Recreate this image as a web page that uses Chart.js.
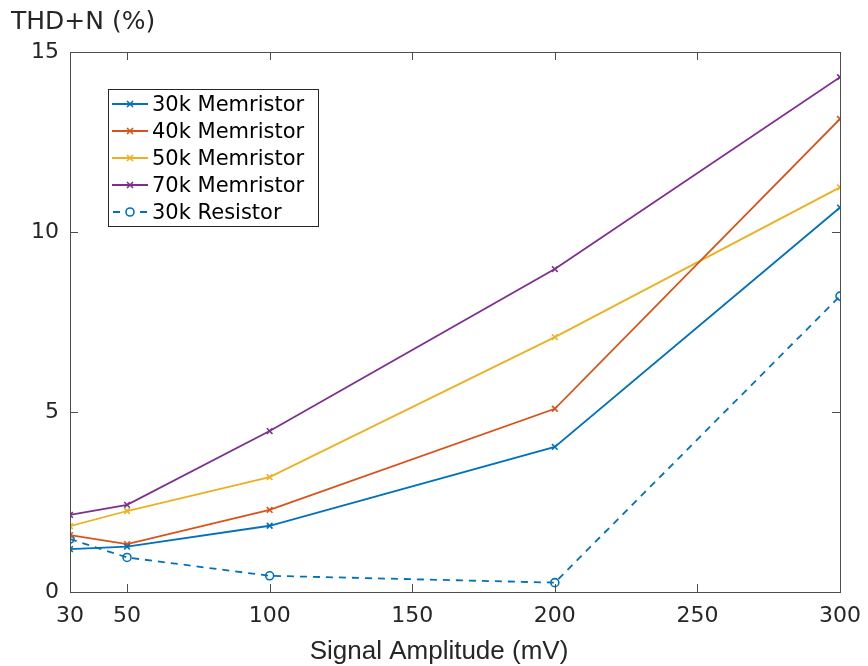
<!DOCTYPE html>
<html>
<head>
<meta charset="utf-8">
<script src="https://cdn.jsdelivr.net/npm/chart.js@4"></script>
<style>
  html, body { margin: 0; padding: 0; background: #fff; }
  #wrap { width: 868px; height: 666px; }
</style>
</head>
<body>
<div id="wrap"><canvas id="myChart" width="868" height="666"></canvas></div>
<script>
// values
const amplitudes = [30, 50, 100, 200, 300];
const xTicks = [30, 50, 100, 150, 200, 250, 300];
const yTicks = [0, 5, 10, 15];

const mem30k = [1.19, 1.26, 1.84, 4.03, 10.68];
const mem40k = [1.58, 1.33, 2.28, 5.09, 13.14];
const mem50k = [1.83, 2.25, 3.19, 7.08, 11.24];
const mem70k = [2.14, 2.42, 4.47, 8.97, 14.30];
const res30k = [1.47, 0.96, 0.45, 0.26, 8.22];

const seriesNames = ['30k Memristor', '40k Memristor', '50k Memristor', '70k Memristor', '30k Resistor'];
const colors = ['#0072BD', '#D95319', '#EDB120', '#7E2F8E', '#0072BD'];

const axisColor = '#4d4d4d';
const tickFont = { family: 'DejaVu Sans', size: 22 };
const lineW = 1.8;

function pts(vals) {
    return vals.map((v, i) => ({ x: amplitudes[i], y: v }));
}

function memSet(i, vals) {
    return {
        label: seriesNames[i],
        data: pts(vals),
        borderColor: colors[i],
        backgroundColor: colors[i],
        borderWidth: lineW,
        pointStyle: 'crossRot',
        pointRadius: 4,
        pointBorderWidth: 1.6,
        pointBorderColor: colors[i],
        tension: 0
    };
}

// MATLAB style box, inward ticks, labels and legend
const matlabAxes = {
    id: 'matlabAxes',
    afterDraw(chart) {
        const c = chart.ctx;
        const a = chart.chartArea;
        const xs = chart.scales.x, ys = chart.scales.y;
        c.save();
        c.strokeStyle = axisColor;
        c.lineWidth = 1;
        c.strokeRect(a.left + 0.5, a.top + 0.5, a.right - a.left, a.bottom - a.top);
        const tl = 8;
        c.beginPath();
        xTicks.forEach(t => {
            const px = Math.round(xs.getPixelForValue(t)) + 0.5;
            c.moveTo(px, a.bottom); c.lineTo(px, a.bottom - tl);
            c.moveTo(px, a.top); c.lineTo(px, a.top + tl);
        });
        yTicks.forEach(t => {
            const py = Math.round(ys.getPixelForValue(t)) + 0.5;
            c.moveTo(a.left, py); c.lineTo(a.left + tl, py);
            c.moveTo(a.right, py); c.lineTo(a.right - tl, py);
        });
        c.stroke();

        // axis labels
        c.fillStyle = '#262626';
        c.font = '25px "DejaVu Sans"';
        c.textAlign = 'left';
        c.textBaseline = 'alphabetic';
        c.fillText('THD+N (%)', 11, 29);
        c.font = '26px "Liberation Sans"';
        c.textAlign = 'center';
        c.fillText('Signal Amplitude (mV)', 439, 659);

        // legend
        const lx = 108, ly = 89, lw = 210, lh = 137;
        c.fillStyle = '#fff';
        c.fillRect(lx, ly, lw, lh);
        c.strokeStyle = '#262626';
        c.strokeRect(lx + 0.5, ly + 0.5, lw, lh);
        c.font = '21px "DejaVu Sans"';
        c.textAlign = 'left';
        c.textBaseline = 'middle';
        chart.data.datasets.forEach((ds, i) => {
            const cy = ly + 15 + i * 27;
            c.strokeStyle = ds.borderColor;
            c.lineWidth = lineW;
            c.setLineDash([]);
            c.beginPath();
            if (ds.borderDash) {
                c.moveTo(113, cy); c.lineTo(120, cy);
                c.moveTo(140, cy); c.lineTo(147, cy);
            } else {
                c.moveTo(112, cy); c.lineTo(148, cy);
            }
            c.stroke();
            c.lineWidth = 1.6;
            c.beginPath();
            if (ds.pointStyle === 'circle') {
                c.arc(130, cy, 4, 0, Math.PI * 2);
            } else {
                c.moveTo(127, cy - 3); c.lineTo(133, cy + 3);
                c.moveTo(133, cy - 3); c.lineTo(127, cy + 3);
            }
            c.stroke();
            c.fillStyle = '#000';
            c.fillText(ds.label, 152, cy + 2);
        });
        c.restore();
    }
};

const ctx = document.getElementById('myChart').getContext('2d');

new Chart(ctx, {
    type: 'line',
    data: {
        datasets: [
            memSet(0, mem30k),
            memSet(1, mem40k),
            memSet(2, mem50k),
            memSet(3, mem70k),
            {
                label: seriesNames[4],
                data: pts(res30k),
                borderColor: colors[4],
                backgroundColor: '#fff',
                borderWidth: lineW,
                borderDash: [7, 6],
                pointStyle: 'circle',
                pointRadius: 4,
                pointBorderWidth: 1.6,
                pointBorderColor: colors[4],
                pointBackgroundColor: 'rgba(255,255,255,0)',
                tension: 0
            }
        ]
    },
    options: {
        responsive: false,
        animation: false,
        layout: { padding: { left: 0, right: 28, top: 52, bottom: 0 } },
        plugins: {
            legend: { display: false },
            tooltip: { enabled: false }
        },
        scales: {
            x: {
                type: 'linear',
                min: 30,
                max: 300,
                afterBuildTicks: s => { s.ticks = xTicks.map(v => ({ value: v })); },
                afterFit: s => { s.height = 74; s.paddingLeft = 0; s.paddingRight = 0; },
                grid: { display: false, drawTicks: false },
                border: { display: false },
                ticks: { color: '#262626', font: tickFont, padding: 11, maxRotation: 0, autoSkip: false }
            },
            y: {
                type: 'linear',
                min: 0,
                max: 15,
                afterBuildTicks: s => { s.ticks = yTicks.map(v => ({ value: v })); },
                afterFit: s => { s.width = 70; s.paddingTop = 0; s.paddingBottom = 0; },
                grid: { display: false, drawTicks: false },
                border: { display: false },
                ticks: { color: '#262626', font: tickFont, padding: 11 }
            }
        }
    },
    plugins: [matlabAxes]
});
</script>
</body>
</html>
